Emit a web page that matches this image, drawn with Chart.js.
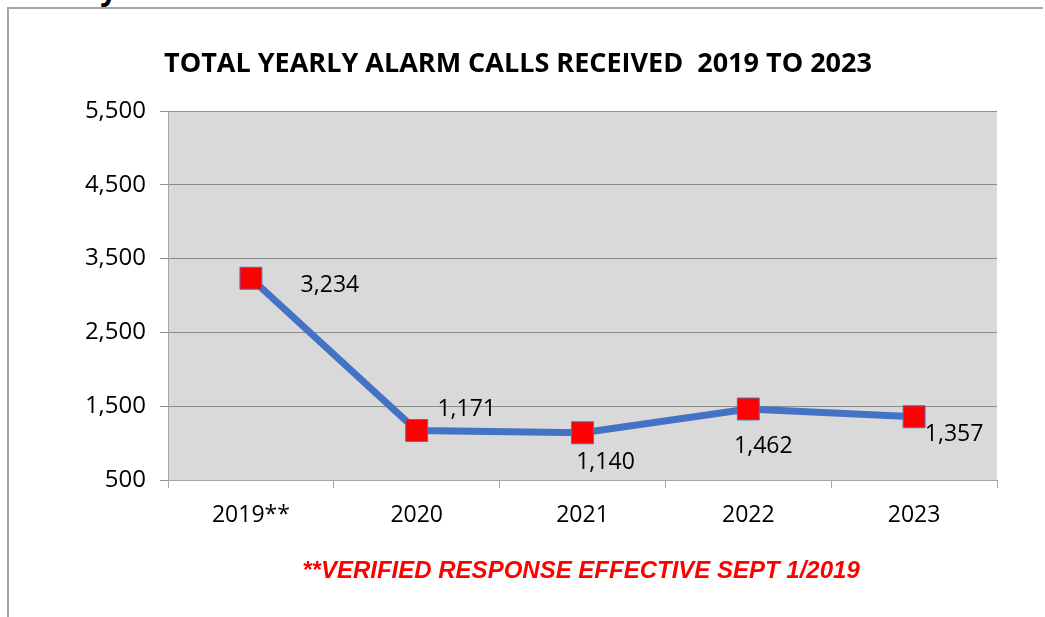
<!DOCTYPE html>
<html>
<head>
<meta charset="utf-8">
<script src="https://cdn.jsdelivr.net/npm/chart.js@4.4.1/dist/chart.umd.min.js"></script>
<style>
  html, body { margin: 0; padding: 0; background: #fff; overflow: hidden; }
  #wrap { position: relative; width: 1045px; height: 617px; }
  #frame { position: absolute; left: 7px; top: 7px; width: 1036px; height: 620px;
           border-left: 2px solid #a6a6a6; border-top: 2px solid #a6a6a6; box-sizing: border-box; background: #fff; }
  #cut { position: absolute; left: 18px; top: -32px; font: bold 30px "Open Sans", sans-serif;
         color: #000; white-space: nowrap; letter-spacing: 1px; }
  canvas { position: absolute; left: 0; top: 0; }
</style>
</head>
<body>
<div id="wrap">
  <div id="cut">Yearly Alarm Calls Received 2019 to 2023</div>
  <div id="frame"></div>
  <canvas id="alarmChart" width="1045" height="617"></canvas>
</div>
<script>
// chart data
const years = ['2019**', '2020', '2021', '2022', '2023'];
const alarmCalls = [3234, 1171, 1140, 1462, 1357];
const yTicks = [500, 1500, 2500, 3500, 4500, 5500];

const chartTitle = 'TOTAL YEARLY ALARM CALLS RECEIVED  2019 TO 2023';
const footNote = '**VERIFIED RESPONSE EFFECTIVE SEPT 1/2019';

// where each value label sits relative to its marker
const labelShift = [[79, 7], [50, -21], [23, 30], [15, 37], [40, 18]];

const fmt = v => v.toLocaleString('en-US');

// grey plot background
const plotBg = {
    id: 'plotBg',
    beforeDraw(chart) {
        const a = chart.chartArea;
        const ctx = chart.ctx;
        ctx.save();
        ctx.fillStyle = '#d9d9d9';
        ctx.fillRect(a.left, a.top, a.right - a.left, a.bottom - a.top);
        ctx.restore();
    }
};

// title, value labels and the red note
const extras = {
    id: 'extras',
    afterDraw(chart) {
        const ctx = chart.ctx;
        ctx.save();
        ctx.textAlign = 'center';
        ctx.textBaseline = 'middle';

        ctx.fillStyle = '#000';
        ctx.font = 'bold 27px "Open Sans"';
        ctx.fillText(chartTitle, 518, 64);

        ctx.font = '23px "Open Sans"';
        const pts = chart.getDatasetMeta(0).data;
        pts.forEach((p, i) => {
            ctx.fillText(fmt(alarmCalls[i]), p.x + labelShift[i][0], p.y + labelShift[i][1]);
        });

        ctx.fillStyle = '#ff0000';
        ctx.font = 'italic bold 24px "Liberation Sans"';
        ctx.fillText(footNote, 581, 571);
        ctx.restore();
    }
};

window.onload = function() {
    const ctx = document.getElementById('alarmChart').getContext('2d');
    new Chart(ctx, {
        type: 'line',
        data: {
            labels: years,
            datasets: [{
                data: alarmCalls,
                borderColor: '#4472c4',
                borderWidth: 7,
                pointStyle: 'rect',
                pointRadius: 15.5,
                pointBackgroundColor: '#ff0000',
                pointBorderColor: '#4472c4',
                pointBorderWidth: 1,
                tension: 0
            }]
        },
        options: {
            responsive: false,
            animation: false,
            layout: { padding: { top: 111, right: 48, bottom: 0, left: 0 } },
            plugins: {
                legend: { display: false },
                tooltip: { enabled: false }
            },
            scales: {
                x: {
                    offset: true,
                    grid: { offset: true, drawOnChartArea: false, color: '#a6a6a6', tickLength: 8, lineWidth: 1 },
                    border: { color: '#a6a6a6', width: 1 },
                    ticks: { color: '#000', font: { family: 'Open Sans', size: 23 }, padding: 14 },
                    afterFit(scale) { scale.height = 137; }
                },
                y: {
                    min: 500,
                    max: 5500,
                    afterBuildTicks(scale) { scale.ticks = yTicks.map(v => ({ value: v })); },
                    grid: { color: '#8c8c8c', tickLength: 8, lineWidth: 1 },
                    border: { color: '#a6a6a6', width: 1 },
                    ticks: { color: '#000', font: { family: 'Open Sans', size: 24 }, padding: 14,
                             callback: v => fmt(v) },
                    afterFit(scale) { scale.width = 168; }
                }
            }
        },
        plugins: [plotBg, extras]
    });
};
</script>
</body>
</html>
